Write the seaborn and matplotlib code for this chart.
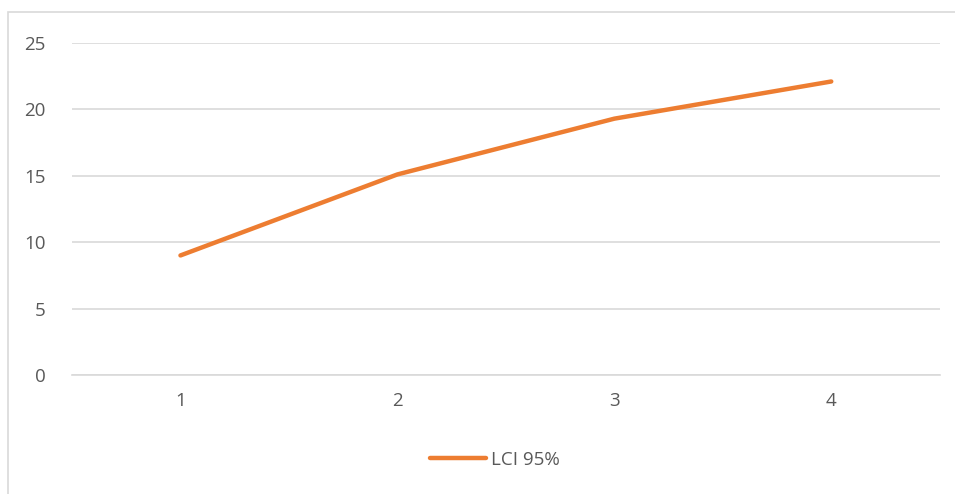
import matplotlib
matplotlib.use("Agg")
import matplotlib.pyplot as plt
import seaborn as sns
import pandas as pd
from matplotlib.patches import Rectangle

sns.set_style("white")
plt.rcParams['font.family'] = ['Open Sans', 'DejaVu Sans']

categories = ["1", "2", "3", "4"]
lci_95 = [9.0, 15.1, 19.3, 22.1]
y_ticks = [0, 5, 10, 15, 20, 25]

df = pd.DataFrame({"x": range(len(categories)), "LCI 95%": lci_95})

fig = plt.figure(figsize=(9.55, 4.94), dpi=100)
ax = fig.add_axes([0.0754, 0.241, 0.9086, 0.672])

# outer chart border like Excel
fig.patches.append(Rectangle((8 / 955, -0.01), 1.0, (494 - 12) / 494 + 0.01,
                             transform=fig.transFigure, fill=False,
                             edgecolor="#d9d9d9", linewidth=1.2))

sns.lineplot(data=df, x="x", y="LCI 95%", ax=ax, color="#ED7D31",
             linewidth=3.2, solid_capstyle="round", label="LCI 95%", legend=False)

ax.set_xlim(-0.5, len(categories) - 0.5)
ax.set_ylim(0, 25)
ax.set_yticks(y_ticks)
ax.set_xticks(range(len(categories)))
ax.set_xticklabels(categories)
ax.grid(axis="y", color="#d9d9d9", linewidth=1.2)
ax.set_axisbelow(True)
for s in ["top", "right", "left"]:
    ax.spines[s].set_visible(False)
ax.spines["bottom"].set_color("#d9d9d9")
ax.spines["bottom"].set_linewidth(1.2)
ax.tick_params(axis="both", length=0, labelsize=13.5, labelcolor="#595959")
ax.tick_params(axis="y", pad=19)
ax.tick_params(axis="x", pad=12)
ax.set_xlabel("")
ax.set_ylabel("")

handles, labels = ax.get_legend_handles_labels()
fig.legend(handles, labels, loc="center", bbox_to_anchor=(0.518, 0.069),
           frameon=False, fontsize=13.5, labelcolor="#595959",
           handlelength=3.0, handletextpad=0.25)

fig.savefig("out.png", dpi=100)
